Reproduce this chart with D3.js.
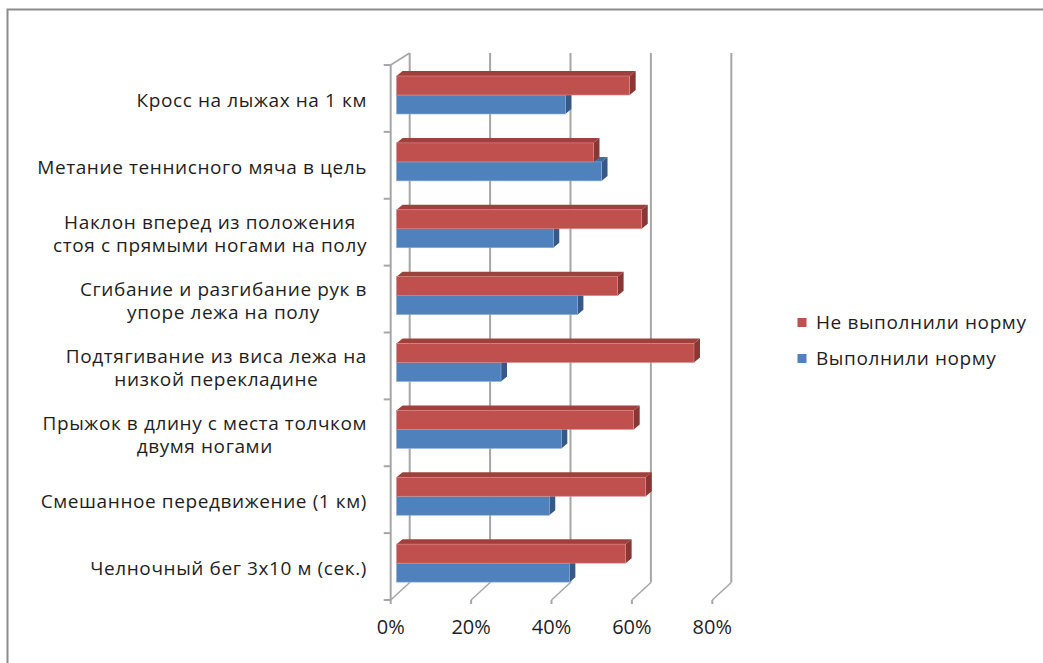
<!DOCTYPE html>
<html>
<head>
<meta charset="utf-8">
<script src="https://cdn.jsdelivr.net/npm/d3@7"></script>
<style>
  html, body { margin: 0; padding: 0; background: #fff; }
  svg { display: block; }
</style>
</head>
<body>
<svg id="chart" width="1043" height="663"></svg>
<script>
// ---- data (top to bottom as shown) ----
const categories = [
  "Кросс на лыжах на 1 км",
  "Метание теннисного мяча в цель",
  "Наклон вперед из положения стоя с прямыми ногами на полу",
  "Сгибание и разгибание рук в упоре лежа на полу",
  "Подтягивание из виса лежа на низкой перекладине",
  "Прыжок в длину с места толчком двумя ногами",
  "Смешанное передвижение (1 км)",
  "Челночный бег 3х10 м (сек.)"
];
const categoryLines = [
  ["Кросс на лыжах на 1 км"],
  ["Метание теннисного мяча в цель"],
  ["Наклон вперед из положения", "стоя с прямыми ногами на полу"],
  ["Сгибание и разгибание рук в", "упоре лежа на полу"],
  ["Подтягивание из виса лежа на", "низкой перекладине"],
  ["Прыжок в длину с места толчком", "двумя ногами"],
  ["Смешанное передвижение (1 км)"],
  ["Челночный бег 3х10 м (сек.)"]
];
const seriesNames = ["Не выполнили норму", "Выполнили норму"];
const notPassed = [58, 49, 61, 55, 74, 59, 62, 57];
const passed    = [42, 51, 39, 45, 26, 41, 38, 43];
const xTicks = [0, 20, 40, 60, 80];

// ---- styling ----
const FONT = "'Open Sans', 'Liberation Sans', Arial, sans-serif";
const colors = {
  "Не выполнили норму": { front: "#C0504D", top: "#A0403D", side: "#8A3634", edge: "#D98C8A" },
  "Выполнили норму":    { front: "#4F81BD", top: "#416DA3", side: "#36598A", edge: "#8FB0D8" }
};
const gridColor = "#A6A6A6";
const textColor = "#1E1E1E";

const svg = d3.select("#chart");

// chart border
svg.append("rect")
  .attr("x", 7.5).attr("y", 9.5).attr("width", 1040).attr("height", 670)
  .attr("fill", "#fff").attr("stroke", "#8C8C8C").attr("stroke-width", 2);

// ---- scales (front plane) ----
const x = d3.scaleLinear().domain([0, 80]).range([390.7, 712.3]);
const y = d3.scaleBand().domain(categories).range([65, 600]);
const yInner = d3.scaleBand().domain(seriesNames).range([11, 49]);

const backDX = 19, backTopY = 53, backBotY = 582.5, frontTopY = 65, frontBotY = 600;
const barShiftX = 5.8, depthDX = 6, depthDY = -5;

const g = svg.append("g");

// back wall gridlines
g.selectAll(".grid").data(xTicks).join("line")
  .attr("x1", d => x(d) + backDX).attr("x2", d => x(d) + backDX)
  .attr("y1", backTopY).attr("y2", backBotY)
  .attr("stroke", gridColor).attr("stroke-width", 2);
// floor lines
g.selectAll(".floor").data(xTicks).join("line")
  .attr("x1", d => x(d)).attr("x2", d => x(d) + backDX)
  .attr("y1", frontBotY).attr("y2", backBotY)
  .attr("stroke", gridColor).attr("stroke-width", 1.5);
// left wall
g.append("line").attr("x1", x(0)).attr("x2", x(0)).attr("y1", frontTopY).attr("y2", frontBotY)
  .attr("stroke", gridColor).attr("stroke-width", 2);
g.append("line").attr("x1", x(0)).attr("x2", x(0) + backDX).attr("y1", frontTopY).attr("y2", backTopY)
  .attr("stroke", gridColor).attr("stroke-width", 1.5);

// category ticks
const bounds = categories.map(c => y(c)).concat([y.range()[1]]);
g.selectAll(".ctick").data(bounds).join("line")
  .attr("x1", x(0) - 7).attr("x2", x(0)).attr("y1", d => d).attr("y2", d => d)
  .attr("stroke", gridColor).attr("stroke-width", 2);
// value ticks
g.selectAll(".vtick").data(xTicks).join("line")
  .attr("x1", d => x(d)).attr("x2", d => x(d)).attr("y1", frontBotY).attr("y2", frontBotY + 4)
  .attr("stroke", gridColor).attr("stroke-width", 2);

// value tick labels
g.selectAll(".vlabel").data(xTicks).join("text")
  .attr("x", d => x(d)).attr("y", 634)
  .attr("text-anchor", "middle")
  .attr("font-family", FONT).attr("font-size", 20).attr("fill", textColor)
  .text(d => d + "%");

// ---- bars ----
function drawBar(sel, cat, name, v) {
  const c = colors[name];
  const x0 = x(0) + barShiftX, x1 = x(v) + barShiftX;
  const y0 = y(cat) + yInner(name), h = yInner.bandwidth();
  sel.append("path")
    .attr("d", `M${x0},${y0} L${x0 + depthDX},${y0 + depthDY} L${x1 + depthDX},${y0 + depthDY} L${x1},${y0} Z`)
    .attr("fill", c.top);
  sel.append("path")
    .attr("d", `M${x1},${y0} L${x1 + depthDX},${y0 + depthDY} L${x1 + depthDX},${y0 + h + depthDY} L${x1},${y0 + h} Z`)
    .attr("fill", c.side);
  sel.append("rect")
    .attr("x", x0).attr("y", y0).attr("width", x1 - x0).attr("height", h)
    .attr("fill", c.front).attr("stroke", c.edge).attr("stroke-width", 0.6);
}
const bars = g.append("g");
categories.forEach((cat, i) => {
  const cg = bars.append("g");
  drawBar(cg, cat, "Выполнили норму", passed[i]);
  drawBar(cg, cat, "Не выполнили норму", notPassed[i]);
});

// ---- category labels ----
const LABEL_RIGHT = 367, LINE_H = 23.5, LABEL_SIZE = 19;
categories.forEach((cat, i) => {
  const lines = categoryLines[i];
  const t = g.append("g");
  const texts = lines.map((ln, j) => t.append("text")
    .attr("font-family", FONT).attr("font-size", LABEL_SIZE).attr("fill", textColor)
    .attr("letter-spacing", 0.6)
    .attr("text-anchor", "middle")
    .attr("y", y(cat) + y.bandwidth() / 2 + 8.5 + (j - (lines.length - 1) / 2) * LINE_H)
    .text(ln));
  const maxW = d3.max(texts, tx => tx.node().getComputedTextLength());
  texts.forEach(tx => tx.attr("x", LABEL_RIGHT - maxW / 2));
});

// ---- legend ----
const legend = svg.append("g");
seriesNames.forEach((name, i) => {
  const ly = 329 + i * 36;
  legend.append("rect").attr("x", 797.5).attr("y", ly - 11).attr("width", 9).attr("height", 9)
    .attr("fill", colors[name].front);
  legend.append("text").attr("x", 816).attr("y", ly)
    .attr("font-family", FONT).attr("font-size", 19).attr("letter-spacing", 0.6).attr("fill", textColor)
    .text(name);
});
</script>
</body>
</html>
